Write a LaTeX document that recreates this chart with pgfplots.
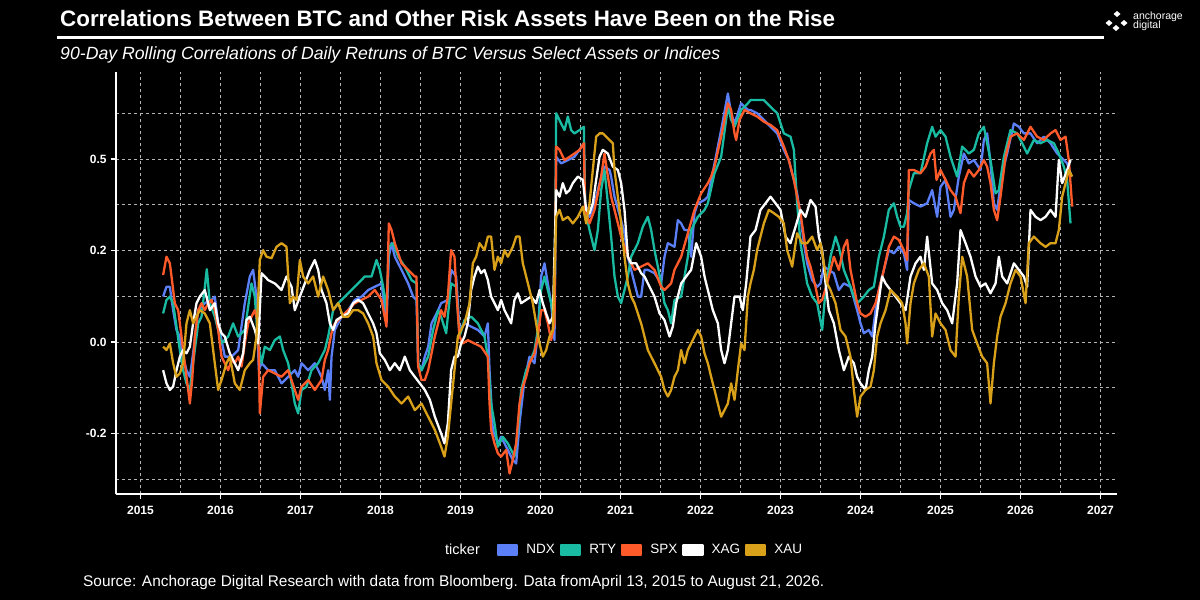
\documentclass[border=0pt]{standalone}
\usepackage{fontspec}
\setmainfont{Liberation Sans}
\usepackage{pgfplots}
\pgfplotsset{compat=1.18}
\definecolor{cNDX}{HTML}{5B7FF7}
\definecolor{cRTY}{HTML}{19BBA2}
\definecolor{cSPX}{HTML}{FF5A2A}
\definecolor{cXAU}{HTML}{D9A01A}
\definecolor{cGrid}{HTML}{B4B4B4}
\begin{document}
\begin{tikzpicture}[x=1pt,y=1pt]
\useasboundingbox (0,0) rectangle (1200,600);
\fill[black] (0,0) rectangle (1200,600);
% title block
\node[anchor=base west, inner sep=0, text=white] at (60,573.3) {\resizebox{775pt}{!}{\fontsize{22.4}{26}\selectfont\bfseries Correlations Between BTC and Other Risk Assets Have Been on the Rise}};
\draw[white, line width=3pt] (57,562.7) -- (1104,562.7);
\node[anchor=base west, inner sep=0, text=white] at (60,540.7) {\resizebox{660pt}{!}{\fontsize{17.6}{20}\selectfont\itshape 90-Day Rolling Correlations of Daily Retruns of BTC Versus Select Assets or Indices}};
% logo
\foreach \px/\py in {1117/586,1109/577,1124/577,1116/572}{
  \fill[white] (\px,\py+3) -- (\px+3.5,\py) -- (\px,\py-3) -- (\px-3.5,\py) -- cycle;}
\node[anchor=base west, inner sep=0, text=white] at (1133,580) {\fontsize{10.5}{11}\selectfont anchorage};
\node[anchor=base west, inner sep=0, text=white] at (1133,571.5) {\fontsize{10.5}{11}\selectfont digital};
% source
\node[anchor=base west, inner sep=0, text=white] at (83,13) {\resizebox{741pt}{!}{\fontsize{14}{16}\selectfont Source: Anchorage Digital Research with data from Bloomberg. Data fromApril 13, 2015 to August 21, 2026.}};
% legend title
\node[anchor=base west, inner sep=0, text=white] at (445,45.5) {\fontsize{14.5}{16}\selectfont ticker};
\begin{axis}[
  at={(116pt,106pt)}, anchor=south west,
  width=1001pt, height=422pt, scale only axis,
  xmin=2014.694, xmax=2027.206,
  ymin=-0.4153, ymax=0.7377,
  axis x line=bottom, axis y line=left,
  axis line style={white, line width=1.8pt, -},
  xtick={2015,2016,2017,2018,2019,2020,2021,2022,2023,2024,2025,2026,2027},
  xticklabels={2015,2016,2017,2018,2019,2020,2021,2022,2023,2024,2025,2026,2027},
  minor xtick={2015.5,2016.5,2017.5,2018.5,2019.5,2020.5,2021.5,2022.5,2023.5,2024.5,2025.5,2026.5},
  ytick={-0.25,0,0.25,0.5},
  yticklabels={-0.2,0.0,0.2,0.5},
  minor ytick={-0.375,-0.125,0.125,0.375,0.625},
  grid=both,
  major grid style={cGrid, line width=0.9pt, dash pattern=on 3pt off 3pt},
  minor grid style={cGrid, line width=0.9pt, dash pattern=on 3pt off 3pt},
  tick align=outside, major tick length=5pt, minor tick length=0pt,
  tick style={white, line width=1.2pt},
  tick label style={text=white, font=\fontsize{12}{13}\selectfont\bfseries},
  xticklabel style={yshift=-3.5pt},
  yticklabel style={xshift=-1pt},
  legend columns=-1,
  legend style={at={(0.3806,-0.1327)}, anchor=west, draw=none, fill=none, inner sep=0pt,
    font=\fontsize{13.5}{15}\selectfont, text=white,
    /tikz/every odd column/.style={column sep=6pt},
    /tikz/every even column/.style={column sep=3pt}},
  legend cell align=left,
  legend image code/.code={\fill[#1] (0pt,-5pt) rectangle (19pt,5pt);},
  every axis plot/.append style={line width=2.3pt, line join=round},
]
% NDX
\addplot[cNDX] coordinates {
(2015.283,0.124)(2015.325,0.151)(2015.367,0.151)(2015.408,0.087)(2015.450,0.033)(2015.492,0.015)(2015.533,-0.040)(2015.575,-0.077)(2015.617,-0.095)(2015.658,-0.031)(2015.721,0.087)(2015.804,0.106)(2015.888,0.115)(2015.929,0.124)(2015.971,0.051)(2016.054,-0.040)(2016.138,-0.040)(2016.221,-0.022)(2016.304,0.106)(2016.367,0.179)(2016.408,0.197)(2016.450,0.124)(2016.479,-0.077)(2016.513,-0.058)(2016.596,-0.077)(2016.679,-0.077)(2016.763,-0.113)(2016.846,-0.095)(2016.929,-0.077)(2016.971,-0.095)(2017.013,-0.058)(2017.096,-0.077)(2017.179,-0.058)(2017.263,-0.095)(2017.304,-0.131)(2017.346,-0.077)(2017.367,-0.158)(2017.388,-0.040)(2017.429,0.033)(2017.513,0.069)(2017.596,0.087)(2017.679,0.115)(2017.763,0.124)(2017.846,0.142)(2017.929,0.151)(2018.013,0.160)(2018.075,0.051)(2018.104,0.233)(2018.138,0.270)(2018.179,0.233)(2018.263,0.197)(2018.346,0.160)(2018.408,0.124)(2018.450,0.115)(2018.471,-0.058)(2018.513,-0.077)(2018.554,-0.040)(2018.596,-0.013)(2018.638,0.051)(2018.721,0.087)
(2018.758,0.106)(2018.842,0.115)(2018.883,0.197)(2018.946,0.179)(2018.988,0.033)(2019.050,0.051)(2019.133,0.042)(2019.217,0.033)(2019.300,0.015)(2019.342,0.051)(2019.363,-0.077)(2019.404,-0.240)(2019.467,-0.277)(2019.508,-0.259)(2019.592,-0.295)(2019.654,-0.322)(2019.696,-0.332)(2019.738,-0.222)(2019.800,-0.104)(2019.863,-0.040)(2019.925,-0.058)(2019.967,0.024)(2020.008,0.179)(2020.050,0.215)(2020.092,0.160)(2020.133,0.106)(2020.175,0.005)(2020.196,0.506)(2020.258,0.488)(2020.342,0.497)(2020.425,0.506)(2020.488,0.525)(2020.542,0.543)(2020.558,0.379)(2020.613,0.342)(2020.675,0.379)(2020.738,0.434)(2020.800,0.479)(2020.863,0.470)(2020.883,0.452)(2020.925,0.397)(2021.008,0.333)(2021.050,0.297)(2021.092,0.233)(2021.133,0.197)(2021.217,0.124)(2021.258,0.124)(2021.300,0.197)(2021.342,0.197)(2021.425,0.188)(2021.508,0.160)(2021.550,0.233)(2021.592,0.270)(2021.675,0.260)(2021.717,0.333)(2021.758,0.324)(2021.800,0.306)(2021.842,0.306)(2021.883,0.233)(2021.925,0.352)(2021.967,0.379)(2022.050,0.388)(2022.092,0.397)(2022.175,0.488)(2022.258,0.579)(2022.342,0.679)(2022.383,0.625)(2022.425,0.597)(2022.508,0.652)(2022.592,0.634)
(2022.625,0.634)(2022.708,0.625)(2022.792,0.607)(2022.875,0.588)(2022.958,0.570)(2023.042,0.525)(2023.104,0.497)(2023.167,0.443)(2023.208,0.406)(2023.250,0.342)(2023.292,0.270)(2023.333,0.215)(2023.396,0.169)(2023.458,0.151)(2023.500,0.160)(2023.542,0.206)(2023.604,0.197)(2023.667,0.188)(2023.729,0.142)(2023.792,0.160)(2023.875,0.151)(2023.958,0.087)(2024.000,0.051)(2024.042,0.024)(2024.104,0.033)(2024.146,0.015)(2024.188,0.087)(2024.229,0.142)(2024.292,0.197)(2024.354,0.251)(2024.417,0.242)(2024.479,0.260)(2024.542,0.242)(2024.583,0.197)(2024.604,0.388)(2024.667,0.379)(2024.750,0.370)(2024.833,0.379)(2024.896,0.415)(2024.958,0.342)(2025.000,0.424)(2025.063,0.443)(2025.125,0.342)(2025.167,0.361)(2025.229,0.452)(2025.292,0.515)(2025.354,0.488)(2025.417,0.497)(2025.500,0.470)(2025.542,0.552)(2025.583,0.570)(2025.625,0.488)(2025.667,0.379)(2025.708,0.361)(2025.771,0.461)(2025.833,0.515)(2025.917,0.597)(2025.979,0.588)(2026.042,0.570)(2026.125,0.570)(2026.208,0.543)(2026.292,0.561)(2026.375,0.543)(2026.458,0.515)(2026.542,0.497)(2026.583,0.488)(2026.625,0.461)
};
\addlegendentry{NDX}
% RTY
\addplot[cRTY] coordinates {
(2015.283,0.078)(2015.325,0.115)(2015.367,0.124)(2015.408,0.106)(2015.450,0.042)(2015.492,-0.022)(2015.533,-0.077)(2015.575,-0.113)(2015.617,-0.131)(2015.658,-0.058)(2015.721,0.051)(2015.763,0.069)(2015.829,0.199)(2015.867,0.106)(2015.929,0.069)(2016.013,-0.004)(2016.096,0.015)(2016.158,0.051)(2016.221,0.015)(2016.304,0.033)(2016.388,0.160)(2016.429,0.124)(2016.471,-0.004)(2016.513,-0.058)(2016.554,-0.013)(2016.617,-0.022)(2016.679,0.005)(2016.742,0.015)(2016.783,-0.022)(2016.846,-0.058)(2016.888,-0.113)(2016.929,-0.168)(2016.971,-0.195)(2017.013,-0.131)(2017.075,-0.122)(2017.138,-0.077)(2017.221,-0.058)(2017.304,-0.022)(2017.346,0.015)(2017.408,0.087)(2017.471,0.106)(2017.554,0.124)(2017.638,0.142)(2017.721,0.160)(2017.804,0.179)(2017.888,0.179)(2017.950,0.224)(2017.992,0.197)(2018.033,0.151)(2018.075,0.087)(2018.104,0.260)(2018.158,0.270)(2018.221,0.233)(2018.304,0.206)(2018.388,0.169)(2018.450,0.160)(2018.471,-0.058)(2018.513,-0.077)(2018.596,-0.040)(2018.658,0.033)(2018.721,0.087)
(2018.758,0.069)(2018.821,0.024)(2018.883,0.160)(2018.946,0.151)(2018.988,0.015)(2019.050,0.060)(2019.133,0.069)(2019.217,0.051)(2019.300,0.015)(2019.342,-0.040)(2019.383,-0.168)(2019.425,-0.222)(2019.467,-0.286)(2019.529,-0.259)(2019.592,-0.277)(2019.633,-0.295)(2019.675,-0.313)(2019.717,-0.240)(2019.758,-0.131)(2019.821,-0.077)(2019.863,-0.058)(2019.925,-0.022)(2019.967,0.033)(2020.008,0.142)(2020.050,0.179)(2020.092,0.142)(2020.133,0.106)(2020.175,0.051)(2020.196,0.625)(2020.258,0.597)(2020.300,0.579)(2020.342,0.616)(2020.383,0.579)(2020.425,0.570)(2020.488,0.579)(2020.542,0.588)(2020.558,0.361)(2020.613,0.306)(2020.675,0.251)(2020.717,0.306)(2020.758,0.415)(2020.800,0.470)(2020.842,0.379)(2020.883,0.288)(2020.925,0.179)(2020.967,0.124)(2021.008,0.106)(2021.050,0.142)(2021.092,0.179)(2021.133,0.233)(2021.217,0.270)(2021.279,0.315)(2021.342,0.342)(2021.383,0.306)(2021.425,0.251)(2021.467,0.206)(2021.508,0.160)(2021.550,0.106)(2021.592,0.087)(2021.633,0.051)(2021.675,0.115)(2021.758,0.124)(2021.842,0.233)(2021.883,0.306)(2021.967,0.342)(2022.050,0.361)(2022.092,0.379)(2022.175,0.461)(2022.258,0.506)(2022.342,0.643)(2022.383,0.607)(2022.425,0.588)(2022.508,0.634)(2022.592,0.652)
(2022.625,0.661)(2022.708,0.661)(2022.792,0.661)(2022.875,0.643)(2022.958,0.625)(2023.042,0.570)(2023.125,0.561)(2023.167,0.525)(2023.208,0.379)(2023.250,0.270)(2023.292,0.215)(2023.333,0.160)(2023.396,0.124)(2023.458,0.106)(2023.521,0.033)(2023.563,0.142)(2023.625,0.233)(2023.688,0.288)(2023.729,0.260)(2023.792,0.197)(2023.875,0.151)(2023.917,0.124)(2023.958,0.106)(2024.000,0.115)(2024.042,0.124)(2024.104,0.142)(2024.167,0.151)(2024.229,0.233)(2024.292,0.288)(2024.354,0.361)(2024.417,0.379)(2024.458,0.342)(2024.500,0.315)(2024.542,0.315)(2024.583,0.352)(2024.604,0.415)(2024.667,0.461)(2024.750,0.461)(2024.833,0.543)(2024.896,0.588)(2024.938,0.561)(2025.000,0.579)(2025.063,0.561)(2025.125,0.506)(2025.208,0.452)(2025.271,0.534)(2025.354,0.515)(2025.417,0.525)(2025.479,0.570)(2025.542,0.588)(2025.583,0.543)(2025.625,0.497)(2025.688,0.406)(2025.729,0.415)(2025.792,0.506)(2025.875,0.579)(2025.958,0.570)(2026.021,0.543)(2026.083,0.515)(2026.167,0.552)(2026.250,0.543)(2026.333,0.552)(2026.417,0.543)(2026.479,0.515)(2026.542,0.479)(2026.583,0.443)(2026.625,0.324)
};
\addlegendentry{RTY}
% SPX
\addplot[cSPX] coordinates {
(2015.283,0.183)(2015.325,0.233)(2015.367,0.215)(2015.388,0.179)(2015.429,0.106)(2015.471,0.087)(2015.513,0.015)(2015.554,-0.058)(2015.596,-0.131)(2015.617,-0.168)(2015.646,-0.104)(2015.679,0.015)(2015.721,0.087)(2015.763,0.106)(2015.804,0.087)(2015.846,0.106)(2015.888,0.115)(2015.929,0.087)(2015.971,0.033)(2016.013,-0.040)(2016.054,-0.058)(2016.096,-0.077)(2016.138,-0.049)(2016.179,-0.058)(2016.221,-0.040)(2016.263,-0.067)(2016.304,-0.004)(2016.346,0.051)(2016.388,0.069)(2016.429,0.087)(2016.471,0.051)(2016.492,-0.195)(2016.533,-0.095)(2016.596,-0.077)(2016.679,-0.086)(2016.763,-0.095)(2016.846,-0.077)(2016.929,-0.131)(2016.971,-0.158)(2017.013,-0.122)(2017.096,-0.104)(2017.179,-0.131)(2017.263,-0.104)(2017.304,-0.049)(2017.346,-0.022)(2017.388,0.024)(2017.429,0.051)(2017.513,0.069)(2017.596,0.087)(2017.679,0.106)(2017.763,0.115)(2017.846,0.124)(2017.929,0.142)(2018.013,0.115)(2018.075,0.042)(2018.104,0.324)(2018.138,0.306)(2018.179,0.270)(2018.263,0.215)(2018.346,0.197)(2018.429,0.179)(2018.450,0.179)(2018.471,-0.067)(2018.513,-0.104)(2018.554,-0.104)(2018.596,-0.077)(2018.638,-0.031)(2018.679,0.015)(2018.721,0.051)
(2018.758,0.087)(2018.800,0.069)(2018.842,0.124)(2018.883,0.251)(2018.925,0.233)(2018.958,0.106)(2018.988,0.015)(2019.029,-0.004)(2019.092,0.005)(2019.175,-0.004)(2019.258,-0.013)(2019.342,-0.040)(2019.363,-0.168)(2019.383,-0.240)(2019.425,-0.277)(2019.467,-0.304)(2019.508,-0.313)(2019.571,-0.295)(2019.613,-0.359)(2019.654,-0.322)(2019.696,-0.277)(2019.738,-0.168)(2019.779,-0.122)(2019.821,-0.095)(2019.863,-0.058)(2019.925,-0.031)(2019.967,0.015)(2020.008,0.087)(2020.050,0.087)(2020.092,0.051)(2020.133,0.005)(2020.175,0.051)(2020.196,0.534)(2020.238,0.525)(2020.300,0.497)(2020.363,0.506)(2020.425,0.515)(2020.488,0.525)(2020.542,0.543)(2020.558,0.361)(2020.613,0.324)(2020.675,0.361)(2020.717,0.406)(2020.758,0.452)(2020.800,0.515)(2020.842,0.452)(2020.883,0.397)(2020.925,0.361)(2020.967,0.324)(2021.008,0.288)(2021.050,0.260)(2021.092,0.233)(2021.175,0.197)(2021.258,0.206)(2021.342,0.215)(2021.425,0.197)(2021.508,0.151)(2021.550,0.142)(2021.633,0.160)(2021.675,0.197)(2021.758,0.233)(2021.842,0.297)(2021.925,0.361)(2022.008,0.406)(2022.092,0.434)(2022.133,0.452)(2022.175,0.479)(2022.258,0.561)(2022.342,0.652)(2022.383,0.634)(2022.425,0.570)(2022.446,0.552)(2022.488,0.607)(2022.550,0.634)
(2022.625,0.625)(2022.708,0.616)(2022.792,0.602)(2022.875,0.593)(2022.958,0.579)(2023.042,0.534)(2023.104,0.497)(2023.167,0.443)(2023.208,0.397)(2023.250,0.352)(2023.292,0.288)(2023.333,0.233)(2023.375,0.206)(2023.438,0.151)(2023.479,0.106)(2023.521,0.115)(2023.583,0.160)(2023.625,0.197)(2023.667,0.233)(2023.729,0.197)(2023.792,0.260)(2023.833,0.279)(2023.875,0.197)(2023.917,0.151)(2023.958,0.106)(2024.000,0.078)(2024.063,0.069)(2024.125,0.078)(2024.188,0.106)(2024.229,0.142)(2024.292,0.197)(2024.354,0.260)(2024.417,0.288)(2024.479,0.279)(2024.542,0.251)(2024.583,0.224)(2024.604,0.470)(2024.667,0.470)(2024.750,0.461)(2024.813,0.479)(2024.875,0.515)(2024.917,0.525)(2024.950,0.443)(2025.000,0.470)(2025.063,0.443)(2025.125,0.415)(2025.188,0.397)(2025.250,0.352)(2025.292,0.434)(2025.354,0.470)(2025.417,0.452)(2025.479,0.470)(2025.542,0.497)(2025.583,0.479)(2025.625,0.434)(2025.667,0.361)(2025.708,0.333)(2025.750,0.397)(2025.813,0.506)(2025.875,0.561)(2025.958,0.570)(2026.042,0.552)(2026.125,0.588)(2026.208,0.561)(2026.292,0.552)(2026.375,0.570)(2026.438,0.579)(2026.500,0.552)(2026.563,0.561)(2026.604,0.497)(2026.646,0.370)
};
\addlegendentry{SPX}
% XAG
\addplot[white] coordinates {
(2015.283,-0.077)(2015.325,-0.113)(2015.367,-0.131)(2015.408,-0.122)(2015.450,-0.077)(2015.492,-0.040)(2015.533,-0.022)(2015.575,-0.031)(2015.617,-0.013)(2015.658,0.051)(2015.700,0.106)(2015.742,0.124)(2015.804,0.142)(2015.867,0.087)(2015.929,0.106)(2015.971,0.051)(2016.013,0.024)(2016.054,0.015)(2016.117,-0.031)(2016.179,-0.058)(2016.221,-0.077)(2016.283,-0.031)(2016.325,0.060)(2016.367,0.069)(2016.429,0.033)(2016.471,-0.004)(2016.513,0.188)(2016.554,0.179)(2016.596,0.169)(2016.679,0.160)(2016.763,0.142)(2016.825,0.179)(2016.888,0.151)(2016.929,0.087)(2016.992,0.124)(2017.054,0.160)(2017.117,0.197)(2017.179,0.224)(2017.221,0.197)(2017.263,0.142)(2017.325,0.106)(2017.367,0.051)(2017.408,0.033)(2017.450,0.060)(2017.513,0.069)(2017.596,0.078)(2017.658,0.106)(2017.721,0.115)(2017.783,0.106)(2017.846,0.078)(2017.908,0.051)(2017.950,0.024)(2017.992,-0.031)(2018.054,-0.049)(2018.117,-0.077)(2018.179,-0.058)(2018.242,-0.077)(2018.304,-0.040)(2018.367,-0.077)(2018.429,-0.095)(2018.492,-0.113)(2018.554,-0.131)(2018.617,-0.158)(2018.679,-0.204)
(2018.758,-0.250)(2018.800,-0.277)(2018.842,-0.222)(2018.883,-0.077)(2018.925,-0.040)(2018.967,-0.040)(2019.008,-0.004)(2019.050,0.015)(2019.092,0.051)(2019.133,0.142)(2019.175,0.179)(2019.217,0.206)(2019.258,0.188)(2019.300,0.197)(2019.342,0.169)(2019.383,0.124)(2019.425,0.106)(2019.467,0.087)(2019.508,0.115)(2019.550,0.087)(2019.592,0.069)(2019.633,0.051)(2019.675,0.115)(2019.717,0.133)(2019.758,0.106)(2019.821,0.115)(2019.883,0.124)(2019.946,0.106)(2019.988,0.142)(2020.029,0.106)(2020.071,0.078)(2020.113,0.051)(2020.154,0.069)(2020.196,0.415)(2020.238,0.397)(2020.279,0.434)(2020.321,0.406)(2020.363,0.415)(2020.404,0.434)(2020.467,0.452)(2020.529,0.443)(2020.571,0.361)(2020.613,0.352)(2020.654,0.379)(2020.696,0.443)(2020.738,0.506)(2020.779,0.525)(2020.842,0.515)(2020.904,0.479)(2020.967,0.470)(2021.008,0.434)(2021.050,0.361)(2021.092,0.233)(2021.133,0.215)(2021.196,0.215)(2021.258,0.188)(2021.300,0.179)(2021.363,0.151)(2021.425,0.124)(2021.488,0.078)(2021.550,0.060)(2021.613,0.015)(2021.654,0.042)(2021.696,0.106)(2021.758,0.160)(2021.821,0.179)(2021.883,0.197)(2021.946,0.270)(2022.008,0.233)(2022.050,0.179)(2022.092,0.142)(2022.154,0.087)(2022.217,0.051)(2022.258,-0.022)(2022.300,-0.058)(2022.342,-0.022)(2022.383,0.051)(2022.425,0.124)(2022.488,0.124)(2022.529,0.087)(2022.571,0.160)
(2022.625,0.288)(2022.688,0.306)(2022.750,0.361)(2022.813,0.379)(2022.875,0.397)(2022.938,0.379)(2023.000,0.361)(2023.063,0.288)(2023.125,0.270)(2023.188,0.315)(2023.250,0.361)(2023.313,0.342)(2023.375,0.388)(2023.438,0.370)(2023.479,0.288)(2023.521,0.251)(2023.563,0.160)(2023.604,0.087)(2023.667,0.051)(2023.729,-0.022)(2023.792,-0.077)(2023.854,-0.040)(2023.917,-0.058)(2023.958,-0.095)(2024.000,-0.113)(2024.063,-0.131)(2024.104,-0.077)(2024.146,-0.040)(2024.188,0.051)(2024.229,0.115)(2024.271,0.179)(2024.313,0.160)(2024.375,0.142)(2024.438,0.124)(2024.500,0.106)(2024.563,0.087)(2024.625,0.179)(2024.688,0.215)(2024.750,0.233)(2024.792,0.197)(2024.833,0.288)(2024.896,0.160)(2024.958,0.142)(2025.021,0.106)(2025.083,0.087)(2025.146,0.051)(2025.208,0.160)(2025.250,0.306)(2025.313,0.270)(2025.375,0.233)(2025.438,0.179)(2025.500,0.151)(2025.563,0.160)(2025.625,0.133)(2025.688,0.160)(2025.729,0.233)(2025.771,0.179)(2025.833,0.160)(2025.917,0.215)(2025.979,0.197)(2026.042,0.179)(2026.083,0.151)(2026.125,0.361)(2026.188,0.342)(2026.250,0.333)(2026.313,0.342)(2026.375,0.361)(2026.438,0.342)(2026.479,0.497)(2026.521,0.434)(2026.583,0.470)(2026.625,0.497)
};
\addlegendentry{XAG}
% XAU
\addplot[cXAU] coordinates {
(2015.283,-0.013)(2015.325,-0.022)(2015.367,-0.004)(2015.408,-0.058)(2015.450,-0.095)(2015.492,-0.086)(2015.533,-0.058)(2015.575,0.051)(2015.617,0.087)(2015.658,0.051)(2015.700,0.069)(2015.742,0.087)(2015.804,0.078)(2015.867,0.051)(2015.929,-0.058)(2015.971,-0.131)(2016.013,-0.104)(2016.075,-0.058)(2016.117,-0.040)(2016.179,-0.113)(2016.242,-0.131)(2016.304,-0.077)(2016.367,-0.058)(2016.408,-0.049)(2016.450,0.015)(2016.492,0.224)(2016.533,0.251)(2016.575,0.233)(2016.638,0.229)(2016.700,0.260)(2016.763,0.270)(2016.825,0.260)(2016.867,0.106)(2016.908,0.124)(2016.950,0.115)(2016.992,0.224)(2017.033,0.179)(2017.096,0.160)(2017.158,0.179)(2017.221,0.124)(2017.283,0.179)(2017.346,0.142)(2017.408,0.087)(2017.471,0.106)(2017.533,0.069)(2017.596,0.069)(2017.658,0.087)(2017.721,0.087)(2017.783,0.078)(2017.846,0.051)(2017.908,0.015)(2017.950,-0.058)(2018.013,-0.104)(2018.096,-0.122)(2018.179,-0.149)(2018.263,-0.168)(2018.346,-0.149)(2018.429,-0.186)(2018.513,-0.168)(2018.596,-0.204)(2018.679,-0.240)
(2018.758,-0.286)(2018.800,-0.313)(2018.842,-0.259)(2018.883,-0.168)(2018.925,-0.077)(2018.967,0.015)(2019.008,0.033)(2019.050,0.051)(2019.113,0.106)(2019.154,0.215)(2019.196,0.233)(2019.238,0.270)(2019.300,0.251)(2019.342,0.288)(2019.383,0.288)(2019.425,0.197)(2019.467,0.233)(2019.508,0.215)(2019.550,0.251)(2019.592,0.233)(2019.654,0.260)(2019.696,0.288)(2019.738,0.288)(2019.779,0.215)(2019.821,0.179)(2019.863,0.142)(2019.904,0.106)(2019.946,0.051)(2019.988,-0.004)(2020.029,-0.040)(2020.071,-0.022)(2020.113,0.015)(2020.154,0.033)(2020.196,0.342)(2020.238,0.361)(2020.279,0.333)(2020.342,0.342)(2020.404,0.324)(2020.467,0.342)(2020.529,0.370)(2020.571,0.324)(2020.613,0.379)(2020.654,0.470)(2020.696,0.561)(2020.738,0.570)(2020.779,0.570)(2020.821,0.561)(2020.863,0.552)(2020.904,0.543)(2020.925,0.470)(2020.967,0.397)(2021.008,0.324)(2021.050,0.233)(2021.092,0.160)(2021.133,0.124)(2021.175,0.106)(2021.217,0.078)(2021.258,0.051)(2021.300,0.015)(2021.342,-0.022)(2021.383,-0.040)(2021.425,-0.058)(2021.467,-0.077)(2021.508,-0.095)(2021.550,-0.131)(2021.592,-0.149)(2021.633,-0.131)(2021.675,-0.095)(2021.717,-0.077)(2021.758,-0.022)(2021.800,-0.058)(2021.842,-0.022)(2021.883,-0.004)(2021.925,0.015)(2021.967,0.033)(2022.008,0.015)(2022.050,-0.031)(2022.092,-0.058)(2022.133,-0.095)(2022.175,-0.131)(2022.217,-0.168)(2022.258,-0.204)(2022.300,-0.186)(2022.342,-0.168)(2022.383,-0.113)(2022.425,-0.158)(2022.467,-0.077)(2022.508,-0.004)(2022.550,-0.022)(2022.592,0.124)
(2022.625,0.160)(2022.667,0.197)(2022.708,0.251)(2022.750,0.288)(2022.792,0.324)(2022.854,0.361)(2022.917,0.352)(2022.979,0.342)(2023.042,0.324)(2023.083,0.251)(2023.146,0.206)(2023.208,0.297)(2023.271,0.270)(2023.333,0.270)(2023.396,0.288)(2023.458,0.251)(2023.500,0.270)(2023.542,0.215)(2023.583,0.160)(2023.625,0.142)(2023.688,0.106)(2023.750,0.033)(2023.813,0.015)(2023.875,-0.040)(2023.917,-0.131)(2023.958,-0.204)(2024.000,-0.149)(2024.063,-0.131)(2024.125,-0.122)(2024.167,-0.077)(2024.208,0.015)(2024.250,0.051)(2024.313,0.087)(2024.375,0.142)(2024.458,0.124)(2024.521,0.106)(2024.563,0.051)(2024.583,-0.004)(2024.625,0.106)(2024.667,0.160)(2024.729,0.197)(2024.792,0.215)(2024.854,0.179)(2024.896,0.015)(2024.938,0.078)(2025.000,0.051)(2025.063,0.033)(2025.125,-0.022)(2025.188,-0.040)(2025.229,0.124)(2025.271,0.233)(2025.333,0.179)(2025.396,0.033)(2025.458,-0.004)(2025.521,-0.040)(2025.583,-0.058)(2025.625,-0.168)(2025.667,-0.058)(2025.708,0.015)(2025.750,0.069)(2025.813,0.106)(2025.875,0.160)(2025.938,0.197)(2026.000,0.179)(2026.063,0.106)(2026.104,0.270)(2026.167,0.288)(2026.250,0.270)(2026.313,0.260)(2026.375,0.270)(2026.438,0.270)(2026.479,0.306)(2026.521,0.397)(2026.563,0.434)(2026.604,0.470)(2026.646,0.452)
};
\addlegendentry{XAU}
\end{axis}
\end{tikzpicture}
\end{document}
